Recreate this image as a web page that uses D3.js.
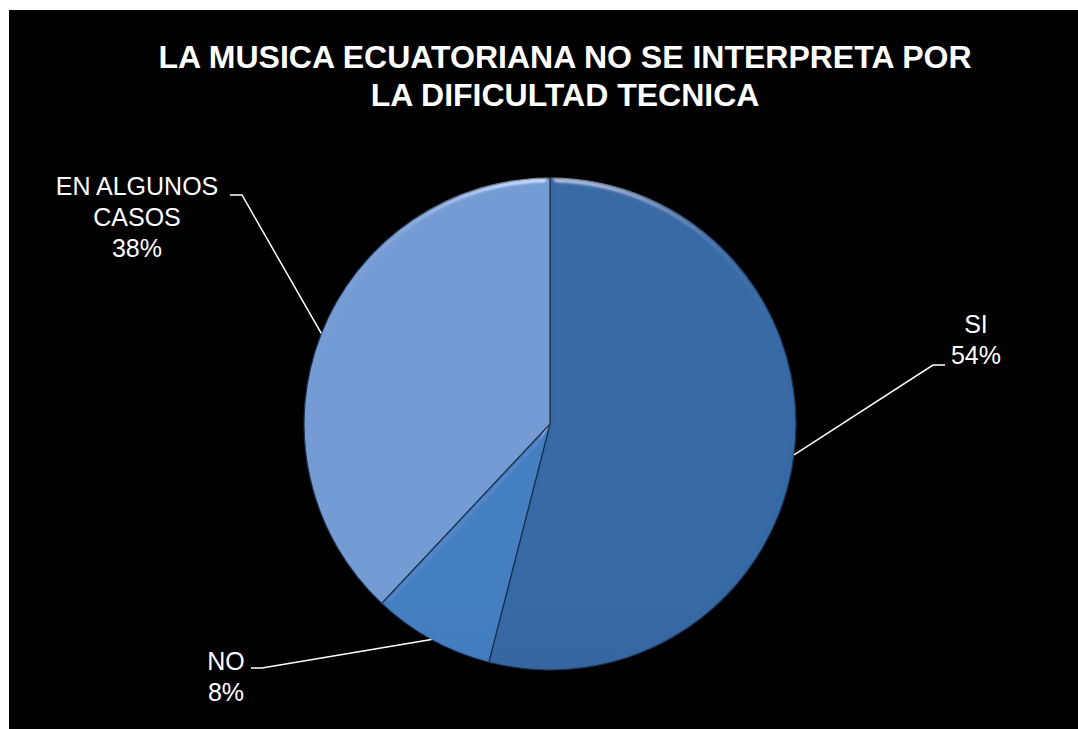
<!DOCTYPE html>
<html>
<head>
<meta charset="utf-8">
<script src="https://cdn.jsdelivr.net/npm/d3@7"></script>
<style>
  html, body { margin: 0; padding: 0; background: #fff; }
  svg { display: block; }
  text { font-family: "Liberation Sans", Arial, sans-serif; fill: #fff; }
</style>
</head>
<body>
<script>
const categories = ['SI', 'NO', 'EN ALGUNOS CASOS'];
const values = [54, 8, 38];
const labelLines = [['SI', '54%'], ['NO', '8%'], ['EN ALGUNOS', 'CASOS', '38%']];
const titleLines = ['LA MUSICA ECUATORIANA NO SE INTERPRETA POR', 'LA DIFICULTAD TECNICA'];

const w = 1078;
const h = 729;
const cx = 550, cy = 424, r = 246;
// gradient top / bottom per slice
const sliceColors = [['#3669a5', '#2a4f81'], ['#447fc2', '#3363a0'], ['#749bd3', '#627ba3']];
// label anchor (text centre x, first baseline y) and elbow of leader
const labelLayout = [
  { x: 976, y: 333, elbow: [933, 365], end: [945, 365] },
  { x: 226, y: 670, elbow: [262, 668], end: [251, 668] },
  { x: 137, y: 195, elbow: [242, 195], end: [230, 195] },
];

const svg = d3.select('body')
  .append('svg')
  .attr('width', w)
  .attr('height', h);

svg.append('rect')
  .attr('x', 9).attr('y', 10)
  .attr('width', w - 9).attr('height', h - 10)
  .attr('fill', '#000');

const defs = svg.append('defs');
sliceColors.forEach((c, i) => {
  const g = defs.append('linearGradient')
    .attr('id', 'grad' + i)
    .attr('gradientUnits', 'userSpaceOnUse')
    .attr('x1', 0).attr('y1', cy - r)
    .attr('x2', 0).attr('y2', cy + r);
  g.append('stop').attr('offset', '0%').attr('stop-color', c[0]);
  g.append('stop').attr('offset', '100%').attr('stop-color', c[1]);
});

// soft bevel along the slice edges
const bevel = defs.append('filter').attr('id', 'bevel')
  .attr('x', '-5%').attr('y', '-5%').attr('width', '110%').attr('height', '110%');
bevel.append('feGaussianBlur').attr('in', 'SourceAlpha').attr('stdDeviation', 3).attr('result', 'blur');
const spec = bevel.append('feSpecularLighting')
  .attr('in', 'blur').attr('surfaceScale', 4).attr('specularConstant', 0.7)
  .attr('specularExponent', 30).attr('lighting-color', '#ffffff').attr('result', 'spec');
spec.append('feDistantLight').attr('azimuth', 270).attr('elevation', 25);
bevel.append('feComposite').attr('in', 'spec').attr('in2', 'SourceAlpha')
  .attr('operator', 'in').attr('result', 'specIn');
bevel.append('feComposite').attr('in', 'SourceGraphic').attr('in2', 'specIn')
  .attr('operator', 'arithmetic').attr('k1', 0).attr('k2', 1).attr('k3', 0.5).attr('k4', 0);

const pie = d3.pie().sort(null).value((d) => d);
const arcs = pie(values);
const arc = d3.arc().innerRadius(0).outerRadius(r);

const pieG = svg.append('g').attr('transform', `translate(${cx}, ${cy})`);
pieG.selectAll('path')
  .data(arcs)
  .enter()
  .append('path')
  .attr('d', arc)
  .attr('fill', (d, i) => `url(#grad${i})`)
  .attr('stroke', '#1b2f4c')
  .attr('stroke-width', 1.2)
  .attr('filter', 'url(#bevel)');

// leader lines from the rim at each slice's mid angle
svg.selectAll('.leader')
  .data(arcs)
  .enter()
  .append('polyline')
  .attr('class', 'leader')
  .attr('fill', 'none')
  .attr('stroke', '#fff')
  .attr('stroke-width', 1.5)
  .attr('points', (d, i) => {
    const a = (d.startAngle + d.endAngle) / 2;
    const px = cx + r * Math.sin(a);
    const py = cy - r * Math.cos(a);
    const L = labelLayout[i];
    return [[px, py], L.elbow, L.end].map((p) => p.join(',')).join(' ');
  });

// labels
labelLines.forEach((lines, i) => {
  const L = labelLayout[i];
  const t = svg.append('text')
    .attr('text-anchor', 'middle')
    .attr('font-size', 25);
  lines.forEach((s, j) => {
    t.append('tspan').attr('x', L.x).attr('y', L.y + j * 31).text(s);
  });
});

// title
const title = svg.append('text')
  .attr('text-anchor', 'middle')
  .attr('font-size', 32)
  .attr('font-weight', 'bold');
titleLines.forEach((s, j) => {
  title.append('tspan').attr('x', 565).attr('y', 68 + j * 38).text(s);
});
</script>
</body>
</html>
